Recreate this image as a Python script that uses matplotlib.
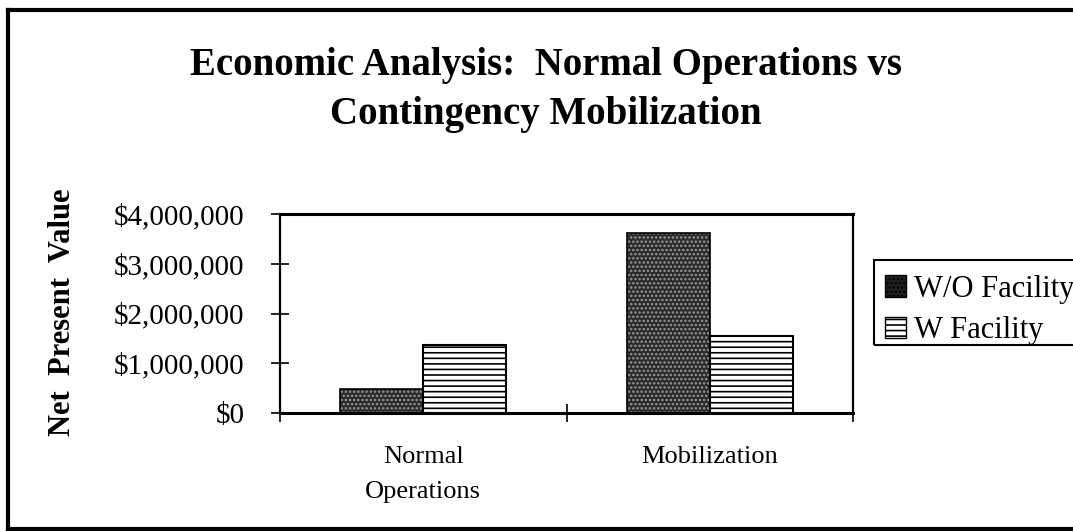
import matplotlib
matplotlib.use("Agg")
import matplotlib.pyplot as plt
from matplotlib.lines import Line2D
from matplotlib.patches import Patch, Rectangle
import numpy as np

categories = ["Normal\nOperations", "Mobilization"]
series_names = ["W/O Facility", "W Facility"]
wo_facility = [490000, 3610000]
w_facility = [1370000, 1550000]
yticks = [0, 1000000, 2000000, 3000000, 4000000]
ytick_labels = ["$0", "$1,000,000", "$2,000,000", "$3,000,000", "$4,000,000"]

plt.rcParams['font.family'] = ['Liberation Serif', 'DejaVu Serif']
plt.rcParams['hatch.linewidth'] = 1.2

W, H = 1073, 531
fig = plt.figure(figsize=(W/100, H/100), dpi=100)
ax = fig.add_axes([280/W, 1-413/H, (853-280)/W, (413-214)/H])

x = np.arange(len(categories))
w = 0.29
# W/O: dark dotted fill
ax.bar(x - w/2, wo_facility, w, color='#2a2a2a', hatch='....', edgecolor='#999999', linewidth=0, zorder=2)
ax.bar(x - w/2, wo_facility, w, fill=False, edgecolor='black', linewidth=1.2, zorder=3)
# W: white with horizontal stripes
ax.bar(x + w/2, w_facility, w, color='white', hatch='---', edgecolor='black', linewidth=0, zorder=2)
ax.bar(x + w/2, w_facility, w, fill=False, edgecolor='black', linewidth=1.5, zorder=3)

ax.set_xlim(-0.5, 1.5)
ax.set_ylim(0, 4000000)
ax.set_yticks(yticks)
ax.set_yticklabels(ytick_labels, fontsize=21)
ax.set_xticks([-0.5, 0.5, 1.5])
ax.set_xticklabels([])
ax.set_xticks(x, minor=True)
ax.set_xticklabels(categories, minor=True, fontsize=19, linespacing=1.75, va='top')
ax.tick_params(axis='x', which='minor', length=0, pad=24)
ax.tick_params(axis='x', which='major', direction='inout', length=13, width=1.2)
ax.tick_params(axis='y', which='major', direction='inout', length=13, width=1.2, pad=19)
for s in ax.spines.values():
    s.set_linewidth(1.6)
ax.spines['bottom'].set_linewidth(2.2)
ax.spines['top'].set_linewidth(2.2)

fig.text(546/W, 1-74.5/H, "Economic Analysis:  Normal Operations vs", ha='center', va='baseline',
         fontsize=28, fontweight='bold')
fig.text(546/W, 1-124/H, "Contingency Mobilization", ha='center', va='baseline',
         fontsize=28, fontweight='bold')
fig.text(62/W, 1-312/H, "Net  Present  Value", rotation=90, ha='center', va='center',
         fontsize=22, fontweight='bold')

handles = [Patch(facecolor='#222222', edgecolor='black', hatch='....'),
           Patch(facecolor='white', edgecolor='black', hatch='---')]
leg = fig.legend(handles, series_names, loc='upper left', bbox_to_anchor=(874/W, 1-264/H),
                 fontsize=22, frameon=False, handlelength=0.7,
                 handleheight=0.7, handletextpad=0.25, labelspacing=0.4, borderpad=0.35,
                 borderaxespad=0)
fig.add_artist(Rectangle((874/W, 1-345/H), (1090-874)/W, (345-260)/H, fill=False,
                         edgecolor='black', lw=1.5, transform=fig.transFigure, clip_on=False))

# outer border
lw = 3
fig.add_artist(Line2D([8/W, 8/W], [1-10/H, 1-529/H], color='black', lw=lw, transform=fig.transFigure))
fig.add_artist(Line2D([8/W, 1], [1-10/H, 1-10/H], color='black', lw=lw, transform=fig.transFigure))
fig.add_artist(Line2D([8/W, 1], [1-529/H, 1-529/H], color='black', lw=lw, transform=fig.transFigure))

fig.savefig("out.png", dpi=100)
